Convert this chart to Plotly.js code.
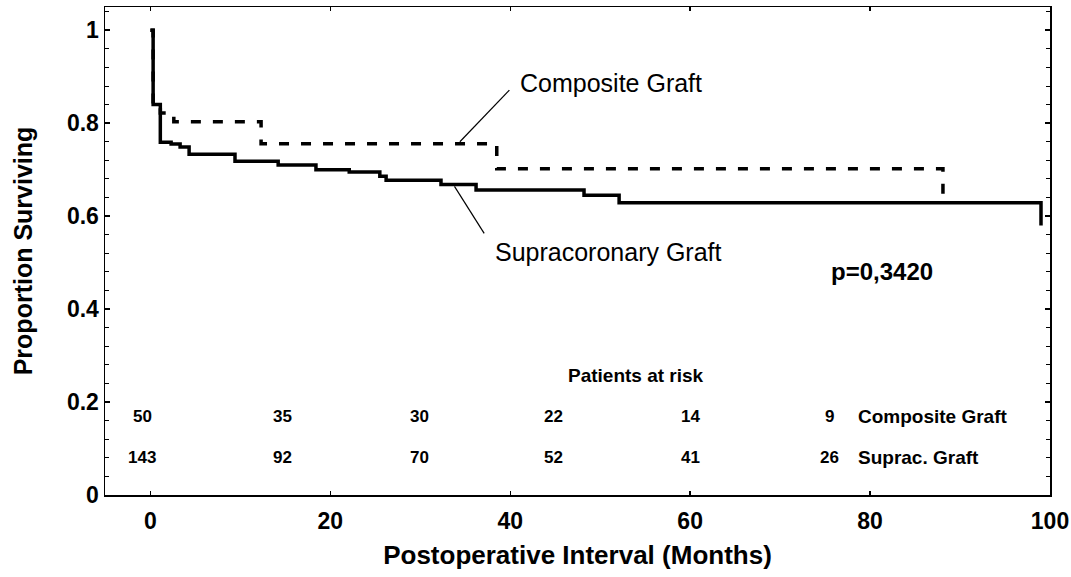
<!DOCTYPE html>
<html>
<head>
<meta charset="utf-8">
<script src="https://cdn.plot.ly/plotly-3.0.1.min.js"></script>
<style>html,body{margin:0;padding:0;background:#fff;}#chart{width:1071px;height:577px;}</style>
</head>
<body>
<div id="chart"></div>
<script>
// Kaplan-Meier step data
const timeSupra = [0, 0.3, 1.1, 2.3, 3.3, 4.3, 9.4, 14.2, 18.4, 22.1, 25.5, 26.2, 32.3, 36.2, 48.2, 52.1, 99.0, 99.0];
const survSupra = [1.0, 0.84, 0.759, 0.755, 0.749, 0.733, 0.718, 0.710, 0.700, 0.695, 0.686, 0.677, 0.668, 0.656, 0.645, 0.629, 0.629, 0.58];

const timeComp = [0, 0.3, 1.1, 2.6, 12.3, 38.5, 88.1];
const survComp = [1.0, 0.84, 0.822, 0.803, 0.756, 0.702, 0.64];

// Patients at risk table
const riskTimes = [-0.9, 14.7, 29.9, 44.8, 60.0, 75.5];
const riskComp = ["50", "35", "30", "22", "14", "9"];
const riskSupra = ["143", "92", "70", "52", "41", "26"];
const riskLabels = ["Composite Graft", "Suprac. Graft"];

const xTicks = [0, 20, 40, 60, 80, 100];
const yTicks = [0, 0.2, 0.4, 0.6, 0.8, 1];

const FONT = "Liberation Sans, Arial, sans-serif";

const traces = [
  {x: timeSupra, y: survSupra, type: "scatter", mode: "lines",
   line: {shape: "hv", color: "#000", width: 3.5}, hoverinfo: "skip", name: "Supracoronary Graft"},
  {x: timeComp, y: survComp, type: "scatter", mode: "lines",
   line: {shape: "hv", color: "#000", width: 3.5, dash: "10px,12px"}, hoverinfo: "skip", name: "Composite Graft"}
];

const annotations = [
  {x: 51.2, y: 0.886, xref: "x", yref: "y", text: "Composite Graft", showarrow: false,
   font: {family: FONT, size: 25, color: "#000"}},
  {x: 50.9, y: 0.523, xref: "x", yref: "y", text: "Supracoronary Graft", showarrow: false,
   font: {family: FONT, size: 25, color: "#000"}},
  {x: 81.3, y: 0.481, xref: "x", yref: "y", text: "p=0,3420", showarrow: false,
   font: {family: FONT, size: 24, color: "#000", weight: "bold"}},
  {x: 54.0, y: 0.258, xref: "x", yref: "y", text: "Patients at risk", showarrow: false,
   font: {family: FONT, size: 19, color: "#000", weight: "bold"}}
];
riskTimes.forEach((t, i) => {
  annotations.push({x: t, y: 0.168, xref: "x", yref: "y", text: riskComp[i], showarrow: false,
    font: {family: FONT, size: 17, color: "#000", weight: "bold"}});
  annotations.push({x: t, y: 0.080, xref: "x", yref: "y", text: riskSupra[i], showarrow: false,
    font: {family: FONT, size: 17, color: "#000", weight: "bold"}});
});
annotations.push({x: 78.4, y: 0.168, xref: "x", yref: "y", xanchor: "left", text: riskLabels[0], showarrow: false,
  font: {family: FONT, size: 19, color: "#000", weight: "bold"}});
annotations.push({x: 78.4, y: 0.080, xref: "x", yref: "y", xanchor: "left", text: riskLabels[1], showarrow: false,
  font: {family: FONT, size: 19, color: "#000", weight: "bold"}});

const shapes = [
  {type: "line", xref: "x", yref: "y", x0: 34.4, y0: 0.760, x1: 39.9, y1: 0.871, line: {color: "#000", width: 1.2}},
  {type: "line", xref: "x", yref: "y", x0: 33.8, y0: 0.664, x1: 37.1, y1: 0.563, line: {color: "#000", width: 1.2}}
];

const layout = {
  width: 1071, height: 577,
  margin: {l: 105, r: 21, t: 7, b: 82},
  paper_bgcolor: "#fff", plot_bgcolor: "#fff",
  showlegend: false,
  font: {family: FONT, color: "#000"},
  xaxis: {
    range: [-5.05, 100], tickvals: xTicks, ticktext: xTicks.map(String),
    ticks: "inside", ticklen: 4, tickwidth: 1.5, tickcolor: "#000",
    showline: true, linecolor: "#000", linewidth: 1.5, mirror: "ticks",
    showgrid: false, zeroline: false, ticklabelstandoff: 5,
    tickfont: {family: FONT, size: 23, weight: "bold"},
    title: {text: "Postoperative Interval (Months)", font: {family: FONT, size: 26, weight: "bold"}, standoff: 12}
  },
  yaxis: {
    range: [0, 1.05], tickvals: yTicks, ticktext: yTicks.map(String),
    ticks: "inside", ticklen: 5, tickwidth: 1.5, tickcolor: "#000",
    minor: {dtick: 0.04, tick0: 0, ticks: "inside", ticklen: 4, tickwidth: 1, tickcolor: "#000"},
    showline: true, linecolor: "#000", linewidth: 1.5, mirror: "ticks",
    showgrid: false, zeroline: false,
    tickfont: {family: FONT, size: 23, weight: "bold"},
    title: {text: "Proportion Surviving", font: {family: FONT, size: 25, weight: "bold"}, standoff: 27}
  },
  annotations: annotations,
  shapes: shapes
};

Plotly.newPlot("chart", traces, layout, {displayModeBar: false, staticPlot: true});
</script>
</body>
</html>
